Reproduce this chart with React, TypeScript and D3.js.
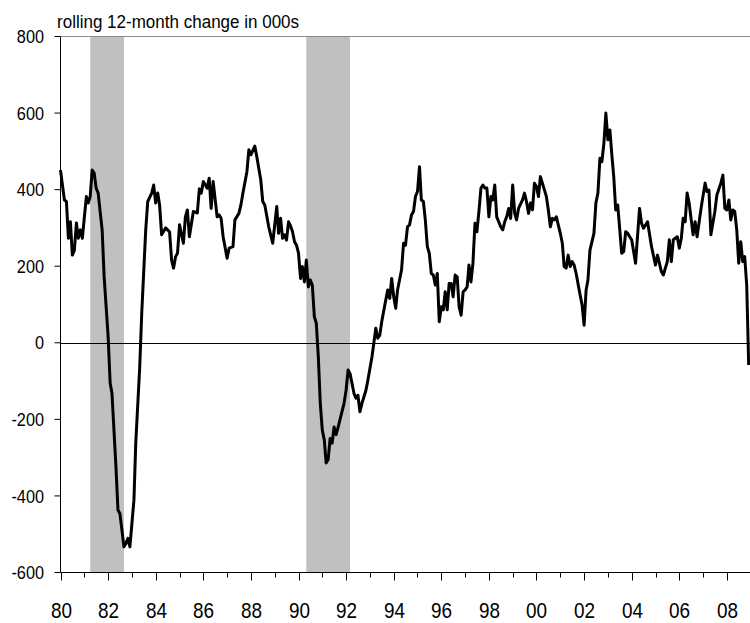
import React from 'react';
import * as d3 from 'd3';

// rolling 12-month change (000s)
const months = [
  "1980-01","1980-03","1980-04","1980-05","1980-06","1980-07","1980-08","1980-09","1980-10","1980-11","1980-12",
  "1981-02","1981-03","1981-04","1981-05","1981-06","1981-07","1981-08","1981-10","1981-11",
  "1982-01","1982-02","1982-03","1982-05","1982-06","1982-07","1982-09","1982-10","1982-11","1982-12",
  "1983-02","1983-03","1983-05","1983-06","1983-08","1983-09","1983-11","1983-12",
  "1984-01","1984-02","1984-03","1984-04","1984-06","1984-07","1984-08","1984-09","1984-10","1984-11","1984-12",
  "1985-01","1985-03","1985-04","1985-05","1985-06","1985-08","1985-10","1985-11","1985-12",
  "1986-01","1986-02","1986-03","1986-04","1986-05","1986-06","1986-08","1986-09","1986-10","1986-11",
  "1987-01","1987-02","1987-04","1987-05","1987-07","1987-08","1987-09","1987-11","1987-12",
  "1988-01","1988-03","1988-04","1988-06","1988-07","1988-08","1988-10","1988-12",
  "1989-02","1989-03","1989-04","1989-05","1989-06","1989-07","1989-08","1989-09","1989-10","1989-11","1989-12",
  "1990-01","1990-02","1990-03","1990-04","1990-05","1990-06","1990-07","1990-08","1990-09","1990-10","1990-11","1990-12",
  "1991-01","1991-02","1991-03","1991-04","1991-05","1991-06","1991-07","1991-08","1991-09","1991-12",
  "1992-01","1992-02","1992-03","1992-05","1992-06","1992-07","1992-08","1992-09","1992-11","1992-12",
  "1993-02","1993-03","1993-04","1993-05","1993-06","1993-07","1993-09","1993-10","1993-11","1993-12",
  "1994-01","1994-02","1994-03","1994-05","1994-06","1994-07","1994-08","1994-09","1994-10","1994-11","1994-12",
  "1995-01","1995-02","1995-03","1995-04","1995-05","1995-06","1995-07","1995-08","1995-09","1995-10","1995-11","1995-12",
  "1996-01","1996-02","1996-03","1996-04","1996-05","1996-06","1996-07","1996-08","1996-09","1996-10","1996-11","1996-12",
  "1997-01","1997-02","1997-03","1997-04","1997-05","1997-06","1997-07","1997-08","1997-09","1997-10","1997-11","1997-12",
  "1998-01","1998-02","1998-03","1998-04","1998-05","1998-07","1998-08","1998-09","1998-10","1998-11","1998-12",
  "1999-01","1999-02","1999-03","1999-04","1999-06","1999-07","1999-08","1999-09","1999-10","1999-11","1999-12",
  "2000-01","2000-02","2000-03","2000-04","2000-06","2000-07","2000-08","2000-09","2000-10","2000-11",
  "2001-01","2001-02","2001-03","2001-04","2001-05","2001-06","2001-07","2001-08","2001-09","2001-11","2001-12",
  "2002-01","2002-02","2002-03","2002-04","2002-06","2002-07","2002-08","2002-09","2002-10","2002-11","2002-12",
  "2003-01","2003-02","2003-03","2003-04","2003-05","2003-06","2003-08","2003-09","2003-10","2003-11","2003-12",
  "2004-01","2004-03","2004-05","2004-06","2004-07","2004-09","2004-11",
  "2005-01","2005-02","2005-04","2005-05","2005-07","2005-08","2005-09","2005-10","2005-12",
  "2006-01","2006-02","2006-03","2006-04","2006-05","2006-06","2006-08","2006-09","2006-10","2006-12",
  "2007-02","2007-03","2007-04","2007-05","2007-07","2007-08","2007-10","2007-11","2007-12",
  "2008-01","2008-02","2008-03","2008-04","2008-05","2008-06","2008-07","2008-08","2008-09","2008-10","2008-11","2008-12",
];

const change = [
  451, 373, 369, 273, 316, 229, 242, 313, 273, 295, 273,
  382, 365, 382, 451, 443, 404, 391, 295, 172,
  16, -105, -132, -324, -437, -446, -533, -524, -511, -533,
  -411, -262, -63, 78, 295, 369, 391, 412,
  365, 391, 360, 282, 300, 295, 290, 216, 195, 225, 234,
  308, 260, 329, 347, 277, 343, 339, 402, 391,
  421, 412, 404, 430, 351, 421, 329, 334, 325, 277,
  221, 247, 251, 321, 338, 360, 391, 447, 504,
  491, 514, 486, 425, 369, 360, 303, 260,
  356, 286, 325, 273, 282, 268, 316, 305, 290, 264, 255,
  234, 168, 199, 159, 216, 146, 164, 151, 68, 51, -37, -158,
  -228, -254, -314, -305, -250, -262, -220, -240, -220, -158,
  -124, -71, -80, -132, -145, -137, -180, -158, -124, -97,
  -37, -2, 38, 12, 20, 55, 112, 138, 116, 168,
  120, 90, 138, 190, 260, 255, 303, 308, 334, 343, 382,
  395, 460, 373, 369, 321, 251, 234, 181, 177, 151, 181, 55,
  94, 86, 133, 86, 155, 155, 120, 177, 172, 94, 72, 133,
  138, 146, 203, 159, 208, 312, 290, 343, 404, 412, 404, 404,
  329, 382, 373, 412, 329, 303, 295, 316, 329, 351, 325,
  412, 338, 321, 351, 373, 391, 369, 338, 365, 347, 417,
  408, 382, 434, 417, 382, 347, 303, 325, 321, 329,
  286, 260, 199, 195, 229, 199, 212, 203, 181, 125, 99,
  46, 138, 164, 242, 286, 365, 391, 482, 473, 521, 600,
  530, 556, 495, 434, 347, 360, 234, 238, 290, 286, 277,
  269, 208, 351, 312, 299, 316, 251,
  203, 229, 186, 177, 212, 269, 212, 269, 277,
  247, 273, 325, 316, 391, 365, 282, 316, 277, 351,
  417, 395, 399, 282, 343, 386, 417, 438, 351,
  347, 373, 321, 347, 343, 295, 208, 264, 212, 225, 150, -58,
];

// shaded recession periods
const recessionStart = ["1981-04", "1990-05"];
const recessionEnd = ["1982-09", "1992-03"];

const yTicks = [-600, -400, -200, 0, 200, 400, 600, 800];
const title = "rolling 12-month change in 000s";

const parseMonth = d3.timeParse("%Y-%m");
const fontFamily = "'Liberation Sans Narrow', 'Arial Narrow', 'Liberation Sans', Arial, sans-serif";

export default function App() {
  const width = 750;
  const height = 623;
  const left = 60.5;
  const top = 36.5;
  const bottom = 572.5;

  const x = d3.scaleTime()
    .domain([new Date(1980, 0, 1), new Date(2009, 0, 1)])
    .range([left, left + 29 * 23.8]);
  const y = d3.scaleLinear().domain([-600, 800]).range([bottom, top]);

  const data = months.map((m, i) => ({ date: parseMonth(m) as Date, value: change[i] }));
  const line = d3.line<{ date: Date; value: number }>()
    .x(d => x(d.date))
    .y(d => y(d.value));

  const years = d3.timeYear.range(new Date(1980, 0, 1), new Date(2009, 0, 2));

  return (
    <svg
      width={width}
      height={height}
      style={{ position: 'absolute', left: 0, top: 0, background: '#fff' }}
      fontFamily={fontFamily}
    >
      {/* recession bands */}
      {recessionStart.map((s, i) => {
        const x0 = x(parseMonth(s) as Date);
        const x1 = x(parseMonth(recessionEnd[i]) as Date);
        return <rect key={s} x={x0} y={top} width={x1 - x0} height={bottom - top} fill="#c0c0c0" />;
      })}

      {/* top border */}
      <line x1={left} x2={width} y1={top} y2={top} stroke="#8c8c8c" strokeWidth={1} />

      {/* zero line */}
      <line x1={left} x2={width} y1={Math.round(y(0)) + 0.5} y2={Math.round(y(0)) + 0.5} stroke="#000" strokeWidth={1} />

      {/* y axis */}
      <line x1={left} x2={left} y1={top} y2={bottom} stroke="#000" strokeWidth={1} />
      {yTicks.map(t => (
        <g key={t} transform={`translate(0,${y(t)})`}>
          <line x1={left - 6} x2={left} stroke="#000" strokeWidth={1} />
          <text transform="translate(44,0) scale(0.88,1)" dy="0.36em" textAnchor="end" fontSize={18.5} fill="#000">{t}</text>
        </g>
      ))}

      {/* x axis */}
      <line x1={left} x2={width} y1={bottom} y2={bottom} stroke="#000" strokeWidth={1} />
      {years.map((d, i) => {
        const major = d.getFullYear() % 2 === 0;
        const px = Math.round(x(d)) + 0.5;
        return (
          <g key={i}>
            <line x1={px} x2={px} y1={bottom} y2={bottom + (major ? 8 : 5)} stroke="#000" strokeWidth={1} />
            {major && (
              <text transform={`translate(${px},618) scale(0.86,1)`} textAnchor="middle" fontSize={22} fill="#000">
                {d3.timeFormat("%y")(d)}
              </text>
            )}
          </g>
        );
      })}

      {/* series */}
      <path d={line(data) || ''} fill="none" stroke="#000" strokeWidth={3} strokeLinejoin="round" />

      <text transform="translate(57,28) scale(0.92,1)" fontSize={18.5} fill="#000">{title}</text>
    </svg>
  );
}
